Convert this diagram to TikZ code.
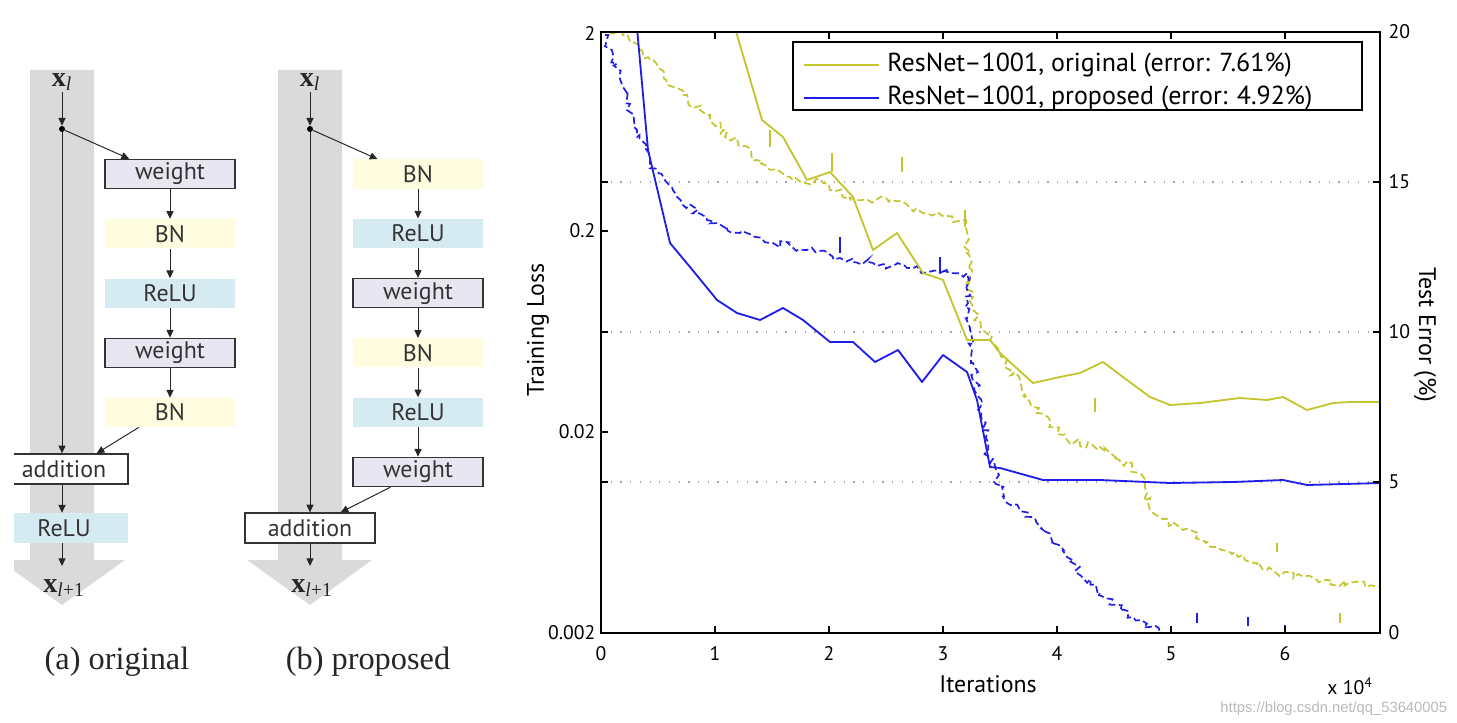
\documentclass[tikz,border=0pt]{standalone}
\usepackage{fontspec}
\setmainfont{Liberation Serif}
\setsansfont{PT Sans}
\newfontfamily\markfont{Liberation Sans}
\usetikzlibrary{arrows.meta,positioning,decorations.pathmorphing}
\definecolor{wfill}{RGB}{232,230,240}
\definecolor{bnfill}{RGB}{255,252,224}
\definecolor{relufill}{RGB}{214,234,242}
\definecolor{band}{RGB}{218,218,218}
\definecolor{olive}{RGB}{196,196,44}
\definecolor{royal}{RGB}{30,30,232}
\tikzset{
  >={Triangle[length=5.5pt,width=5pt]},
  blk/.style={minimum width=3.25cm,minimum height=0.73cm,inner sep=0pt,
    font=\sffamily\fontsize{17}{19}\selectfont,text=black!80},
  wbox/.style={blk,draw=black!80,line width=0.9pt,fill=wfill},
  bnbox/.style={blk,fill=bnfill},
  relubox/.style={blk,fill=relufill},
  addbox/.style={blk,draw=black!80,line width=0.9pt,fill=white,minimum height=0.75cm},
  link/.style={->,line width=0.7pt,draw=black!85},
  xlab/.style={font=\fontsize{20}{22}\selectfont,inner sep=1pt,text=black!85},
  junction/.style={circle,fill=black,inner sep=0pt,minimum size=0.15cm},
  caption/.style={font=\fontsize{23}{26}\selectfont,text=black!85},
  ticklab/.style={font=\sffamily\fontsize{14}{16}\selectfont,inner sep=1pt},
  axlab/.style={font=\sffamily\fontsize{17}{19}\selectfont},
  legtext/.style={font=\sffamily\fontsize{18.5}{21}\selectfont,anchor=west,inner sep=0pt},
  grid line/.style={gray!70,line width=0.9pt,dash pattern=on 0.9pt off 6pt},
  err/.style={line width=1.3pt,line join=round},
  loss/.style={line width=1.2pt,decorate,
    decoration={random steps,segment length=3pt,amplitude=2.8pt},
    dash pattern=on 5pt off 2.5pt},
  spike/.style={line width=1.2pt},
}
\begin{document}
\begin{tikzpicture}[x=0.025cm,y=-0.025cm]
  \useasboundingbox (0,0) rectangle (1457,722);
  \pgfmathsetseed{7}

  % (a) original
  \begin{scope}
    \clip (14,0) rectangle (240,722);
    \fill[band] (30,70) -- (94,70) -- (94,560) -- (125,560) -- (62,605) -- (-1,560) -- (30,560) -- cycle;
    \node[xlab] (xa) at (62,82) {\textbf{x}\textsubscript{\textit{l}}};
    \node[junction] (da) at (62,129) {};
    \node[wbox] (wa1) at (170,174) {weight};
    \node[bnbox,below=0.74cm of wa1] (bna1) {BN};
    \node[relubox,below=0.74cm of bna1] (rla1) {ReLU};
    \node[wbox,below=0.74cm of rla1] (wa2) {weight};
    \node[bnbox,below=0.74cm of wa2] (bna2) {BN};
    \node[addbox,minimum width=3.2cm] (adda) at (64,469) {addition};
    \node[relubox,minimum width=3.2cm,minimum height=0.75cm] (rla2) at (64,528) {ReLU};
    \coordinate (ha) at (62,566);
    \node[xlab] (xa1) at (64,588) {\textbf{x}\textsubscript{\textit{l}+1}};
    \draw[link] (xa) -- (da);
    \draw[link] (da) -- (da |- adda.north);
    \draw[link] (da) -- ([xshift=0.62cm]wa1.north west);
    \foreach \a/\b in {wa1/bna1,bna1/rla1,rla1/wa2,wa2/bna2}
      \draw[link] (\a) -- (\b);
    \draw[link] ([xshift=0.85cm]bna2.south west) -- ([xshift=-0.8cm]adda.north east);
    \draw[link] (da |- adda.south) -- (da |- rla2.north);
    \draw[link] (da |- rla2.south) -- (ha);
  \end{scope}

  % (b) proposed
  \fill[band] (278,70) -- (342,70) -- (342,560) -- (372,560) -- (310,605) -- (247,560) -- (278,560) -- cycle;
  \node[xlab] (xb) at (310,82) {\textbf{x}\textsubscript{\textit{l}}};
  \node[junction] (db) at (310,129) {};
  \node[bnbox] (bnb1) at (418,174) {BN};
  \node[relubox,below=0.74cm of bnb1] (rlb1) {ReLU};
  \node[wbox,below=0.74cm of rlb1] (wb1) {weight};
  \node[bnbox,below=0.74cm of wb1] (bnb2) {BN};
  \node[relubox,below=0.74cm of bnb2] (rlb2) {ReLU};
  \node[wbox,below=0.74cm of rlb2] (wb2) {weight};
  \node[addbox] (addb) at (310,528) {addition};
  \coordinate (hb) at (310,566);
  \node[xlab] (xb1) at (312,588) {\textbf{x}\textsubscript{\textit{l}+1}};
  \draw[link] (xb) -- (db);
  \draw[link] (db) -- (db |- addb.north);
  \draw[link] (db) -- ([xshift=0.62cm]bnb1.north west);
  \foreach \a/\b in {bnb1/rlb1,rlb1/wb1,wb1/bnb2,bnb2/rlb2,rlb2/wb2}
    \draw[link] (\a) -- (\b);
  \draw[link] ([xshift=0.95cm]wb2.south west) -- ([xshift=-0.875cm]addb.north east);
  \draw[link] (addb) -- (hb);

  \node[caption] (capa) at (117,662) {(a) original};
  \node[caption] (capb) at (368,662) {(b) proposed};

  % training curves
  \foreach \y in {182,332,482}
    \draw[grid line] (601,\y) -- (1380,\y);
  \begin{scope}
    \clip (601,32) rectangle (1380,633);
    \draw[loss,olive] (601,30) -- (623,35) -- (633,42) -- (673,87) -- (723,130) -- (757,160)
      -- (790,177) -- (823,183) -- (857,200) -- (890,200) -- (923,213) -- (963,220) -- (967,253)
      -- (973,310) -- (990,340) -- (1000,353) -- (1033,407) -- (1067,440) -- (1100,447)
      -- (1140,473) -- (1150,510) -- (1183,530) -- (1217,547) -- (1267,570) -- (1317,580) -- (1382,587);
    \draw[loss,royal] (605,35) -- (623,87) -- (637,130) -- (650,163) -- (677,197) -- (707,220)
      -- (740,233) -- (773,243) -- (807,250) -- (840,258) -- (873,263) -- (907,268) -- (940,273)
      -- (967,273) -- (968,303) -- (970,330) -- (973,363) -- (990,463) -- (1007,503) -- (1033,517)
      -- (1067,557) -- (1100,593) -- (1133,617) -- (1150,627) -- (1175,636);
    \foreach \px/\pa/\pb in {770/130/147,832/153/172,902/157/172,965/210/227,
        1095/398/412,1277/543/552,1340/613/623}
      \draw[spike,olive] (\px,\pa) -- (\px,\pb);
    \foreach \px/\pa/\pb in {840/237/253,940/257/273,1197/613/623,1248/617/626,1285/625/633}
      \draw[spike,royal] (\px,\pa) -- (\px,\pb);
    \draw[err,olive] (735,28) -- (762,120) -- (783,137) -- (807,180) -- (830,172) -- (853,197)
      -- (873,250) -- (897,233) -- (923,273) -- (943,280) -- (967,340) -- (990,340) -- (1000,353)
      -- (1033,383) -- (1060,377) -- (1080,373) -- (1103,362) -- (1127,380) -- (1150,397)
      -- (1170,405) -- (1200,403) -- (1240,398) -- (1267,400) -- (1283,397) -- (1307,410)
      -- (1333,403) -- (1350,402) -- (1382,402);
    \draw[err,royal] (637,28) -- (648,150) -- (670,243) -- (690,267) -- (717,300) -- (737,313)
      -- (760,320) -- (783,308) -- (803,320) -- (830,342) -- (853,342) -- (875,362) -- (898,350)
      -- (922,382) -- (943,355) -- (967,372) -- (977,400) -- (990,467) -- (1000,468) -- (1043,480)
      -- (1100,480) -- (1170,483) -- (1233,482) -- (1283,480) -- (1307,485) -- (1382,483);
  \end{scope}

  % axes
  \draw[line width=1.4pt] (601,32) rectangle (1380,633);
  \foreach \k in {1,...,6} {
    \draw[line width=1pt] (601+114*\k,633) -- (601+114*\k,626);
    \draw[line width=1pt] (601+114*\k,32) -- (601+114*\k,39);
    \node[ticklab,anchor=north] (bx\k) at (601+114*\k,645) {\k};
  }
  \node[ticklab,anchor=north] (bx0) at (601,645) {0};
  \foreach \y in {182,231,332,432,482}
    \draw[line width=1pt] (601,\y) -- (608,\y);
  \foreach \y in {182,332,482}
    \draw[line width=1pt] (1380,\y) -- (1373,\y);
  \foreach \y/\t in {33/2,231/0.2,432/0.02,633/0.002}
    \node[ticklab,anchor=east] (ly\t) at (597,\y) {\t};
  \foreach \y/\t in {32/20,182/15,332/10,482/5,633/0}
    \node[ticklab,anchor=west] (ry\t) at (1387,\y) {\t};
  \node[axlab,rotate=90] (ylab) at (538,330) {Training Loss};
  \node[axlab,rotate=-90] (rlab) at (1425,335) {Test Error (\%)};
  \node[axlab] (xlab) at (988,684) {Iterations};
  \node[ticklab] (scale) at (1350,686) {x 10\textsuperscript{4}};

  % legend
  \node[draw,line width=1.3pt,fill=white,minimum width=14.225cm,minimum height=1.7cm,inner sep=0pt] (leg) at (1077.5,76) {};
  \draw[err,olive] ([xshift=0.3cm,yshift=-0.6cm]leg.north west) -- ++(1.875cm,0);
  \draw[err,royal] ([xshift=0.3cm,yshift=-1.425cm]leg.north west) -- ++(1.875cm,0);
  \node[legtext] (lega) at ([xshift=2.375cm,yshift=-0.6cm]leg.north west)
    {ResNet\textendash 1001, original (error: 7.61\%)};
  \node[legtext] (legb) at ([xshift=2.375cm,yshift=-1.425cm]leg.north west)
    {ResNet\textendash 1001, proposed (error: 4.92\%)};

  \node[font=\markfont\fontsize{10.5}{12}\selectfont,text=gray!55,anchor=east] (mark) at (1452,709)
    {https://blog.csdn.net/qq\_53640005};
\end{tikzpicture}
\end{document}
